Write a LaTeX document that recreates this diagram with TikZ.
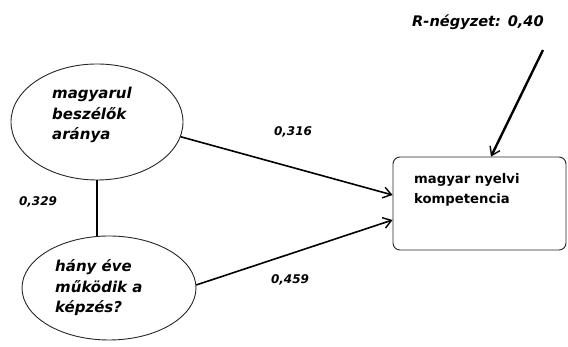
\documentclass[tikz,border=0pt]{standalone}
\usepackage{fontspec}
\setmainfont{DejaVu Sans}
\usetikzlibrary{arrows.meta,calc,shapes.geometric}
\begin{document}
\begin{tikzpicture}[x=1pt,y=1pt,
  latent/.style={draw=black!85,line width=0.9pt,ellipse,inner sep=0pt},
  etext/.style={font=\fontsize{15}{20.5}\selectfont\bfseries\itshape,align=left,inner sep=0pt,anchor=west},
  coef/.style={font=\fontsize{12}{15}\selectfont\bfseries\itshape,inner sep=0pt},
  path/.style={line width=1.6pt,-{Straight Barb[length=8pt,width=11pt,line width=1.4pt]}},
  ]
\useasboundingbox (0,0) rectangle (568,347);
\node[latent,minimum width=172pt,minimum height=116pt] (e1) at (97,225) {};
\node[latent,minimum width=174pt,minimum height=104pt] (e2) at (109,59) {};
\node[etext] (t1) at (52,232) {magyarul\\beszélők\\aránya};
\node[etext] (t2) at (55,59) {hány éve\\működik a\\képzés?};
\node[draw=black!85,line width=0.9pt,rounded corners=7pt,minimum width=173pt,minimum height=93pt,inner sep=0pt] (b) at (479.5,143.5) {};
\node[font=\fontsize{13.2}{20}\selectfont\bfseries,align=left,inner sep=0pt,anchor=north west] (bt) at (414,174) {magyar nyelvi\\kompetencia};
\node[font=\fontsize{14.6}{20}\selectfont\bfseries\itshape,inner sep=0pt] (r) at (478,325) {R-négyzet: 0,40};
\coordinate (rs) at (543,297);
\draw[line width=1.6pt] (e1.south) -- (e1.south |- e2.north);
\draw[path] (e1.-10) -- ($(b.west)+(0,8.5)$);
\draw[path] (e2.2) -- ($(b.west)+(0,-16.5)$);
\draw[path,line width=2.4pt] (rs) -- ($(b.north)+(11.5,0)$);
\node[coef] (c1) at (293,215) {0,316};
\node[coef] (c2) at (290,67) {0,459};
\node[coef] (c3) at (38,145) {0,329};
\end{tikzpicture}
\end{document}
